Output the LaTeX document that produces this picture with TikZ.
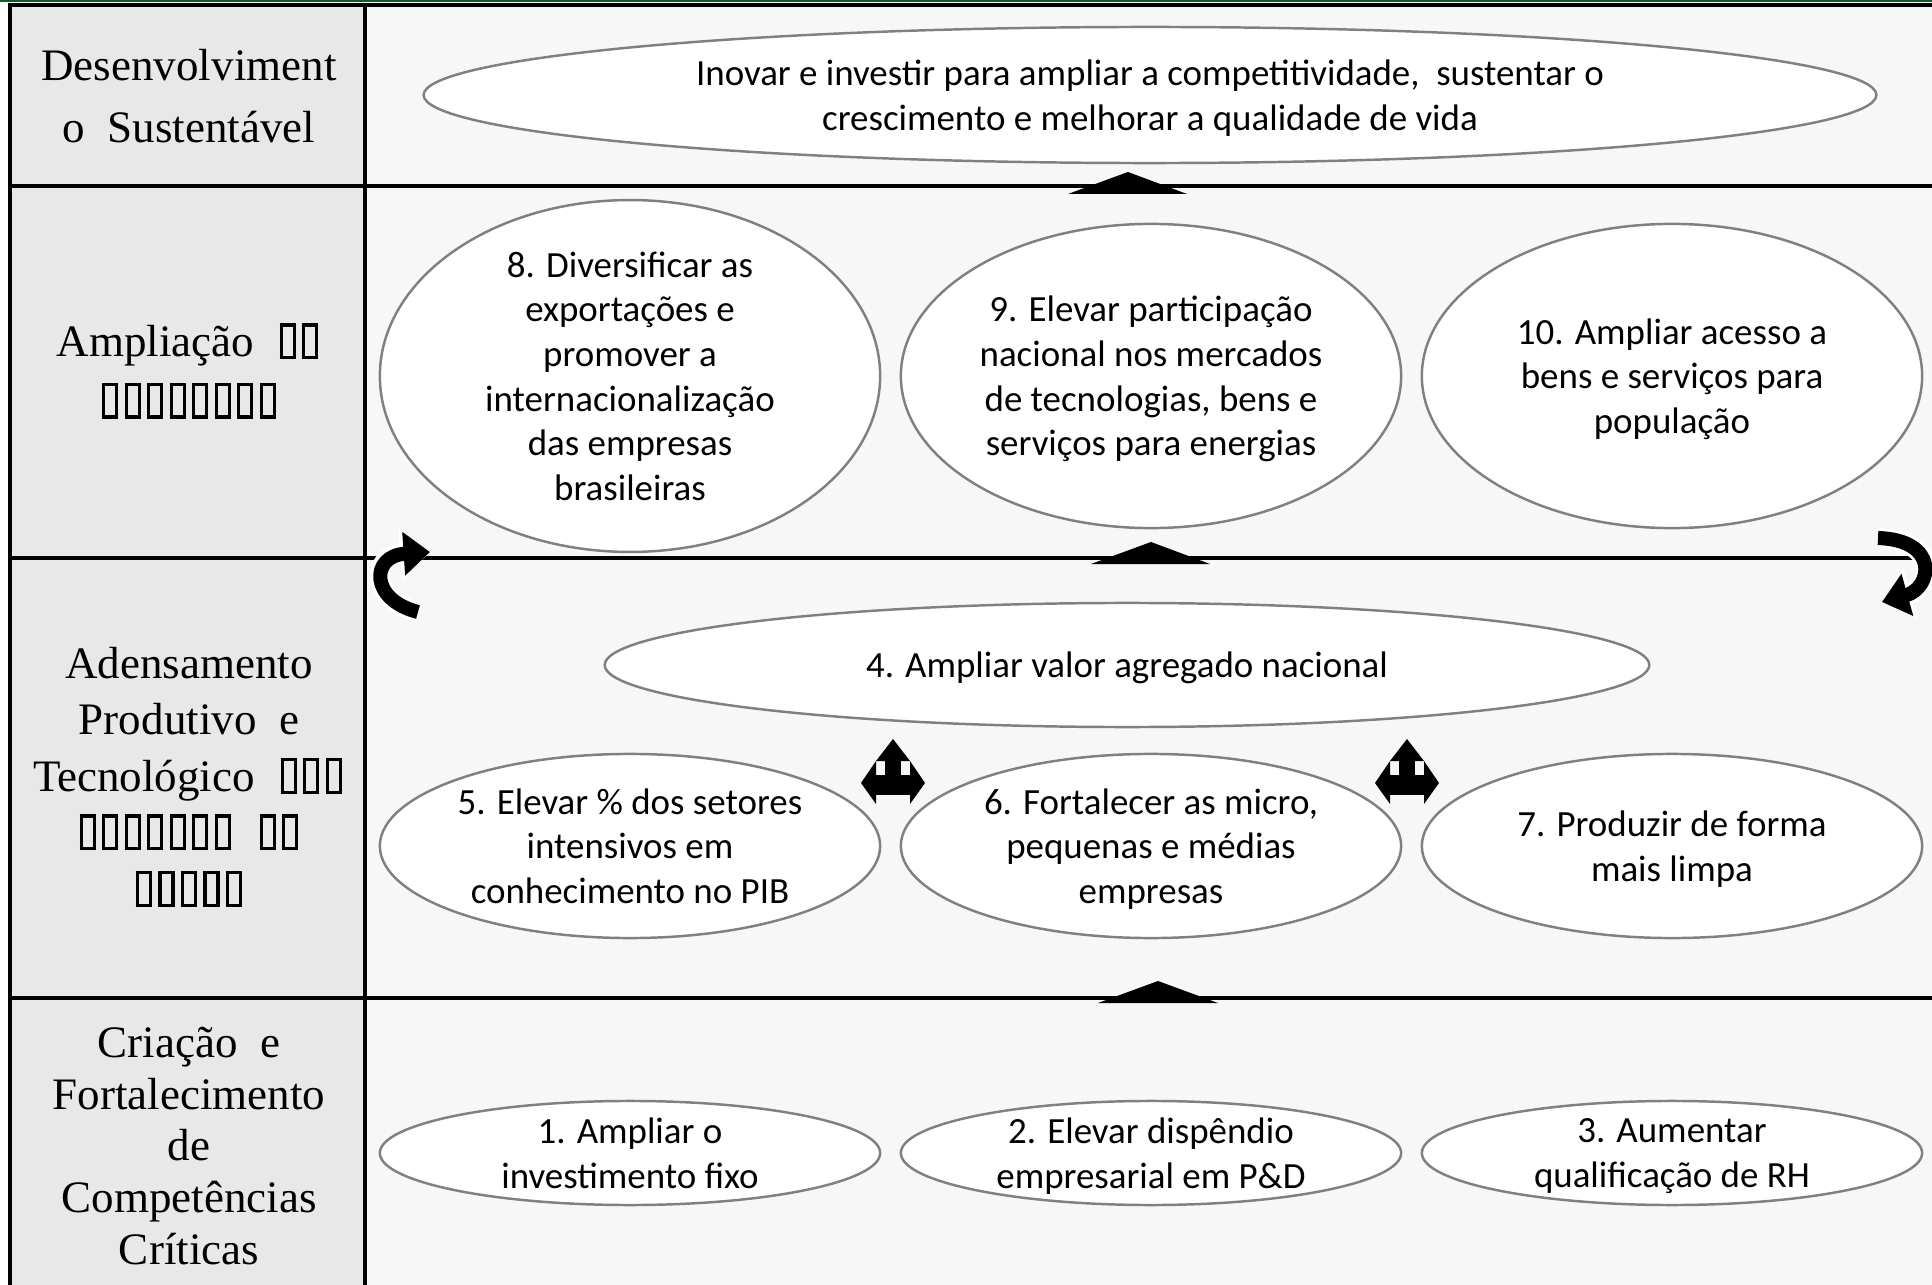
\documentclass[tikz,border=0pt]{standalone}
\usepackage{fontspec}
\setmainfont{Liberation Serif}
\newfontfamily\calfont{Carlito}
\usetikzlibrary{shapes.geometric,arrows.meta}
\definecolor{rowgray}{RGB}{232,232,232}
\definecolor{panelgray}{RGB}{247,247,247}
\definecolor{ringgray}{RGB}{128,128,128}
\definecolor{topgreen}{RGB}{10,95,45}
\newcommand\tofu{\makebox[0.5em]{\fboxsep=0pt\fboxrule=0.07em\fbox{\rule{0.22em}{0pt}\rule{0pt}{0.66em}}}}
\newcommand\tofus[1]{\foreach\k in {1,...,#1}{\tofu}}

\begin{document}
\begin{tikzpicture}[x=0.01cm, y=-0.01cm,
  goal/.style={ellipse, draw=ringgray, line width=0.7pt, fill=white, inner sep=0pt, align=center, text depth=0pt, minimum width=50mm, font=\calfont\fontsize{10.5}{12.7}\selectfont},
  goalbig/.style={goal, minimum height=30.4mm},
  goalmid/.style={goal, minimum height=18.4mm},
  goalsmall/.style={goal, minimum height=10.4mm},
  pillar/.style={align=center, font=\fontsize{12.8}{16}\selectfont},
  gridline/.style={line width=1pt},
  turn/.style={line width=4pt, -{Triangle[width=12pt,length=7.5pt]}, preaction={draw=white, line width=5.6pt, -{Triangle[width=14pt,length=8.5pt]}}},
  triarrow/.pic={
    \fill (0,-36) -- (-17,-14) -- (17,-14) -- cycle;
    \fill (-8,-14) rectangle (8,0);
    \fill (-17,0) rectangle (17,20);
    \fill (-32,8) -- (-17,-14) -- (-17,29) -- cycle;
    \fill (32,8) -- (17,-14) -- (17,29) -- cycle;}]
  \useasboundingbox (0,0) rectangle (1932,1285);
  \fill[white] (0,0) rectangle (1932,1285);
  \fill[panelgray] (365,5) rectangle (1932,1285);
  \fill[rowgray] (10,5) rectangle (365,1285);
  \fill[topgreen] (0,0) rectangle (1932,2.5);
  \draw[line width=1.4pt] (8,5) -- (1932,5);
  \draw[gridline, line width=1.2pt] (10,5) -- (10,1285);
  \draw[gridline, line width=1.2pt] (365,5) -- (365,1285);
  \draw[gridline] (10,186) -- (1932,186);
  \draw[gridline] (10,558) -- (1932,558);
  \draw[gridline] (10,998) -- (1932,998);

  \node[pillar, font=\fontsize{12.8}{17.6}\selectfont] (hdSust) at (189,96) {Desenvolviment\\o\ \ Sustentável};
  \node[pillar, font=\fontsize{12.8}{16.8}\selectfont] (hdMerc) at (189,371) {Ampliação\ \ \tofus{2}\\\tofus{8}};
  \node[pillar] (hdCad) at (189,777) {Adensamento\\Produtivo\ \ e\\Tecnológico\ \ \tofus{3}\\\tofus{7}\ \ \tofus{2}\\\tofus{5}};
  \node[pillar, font=\fontsize{12.8}{14.7}\selectfont] (hdComp) at (189,1146) {Criação\ \ e\\Fortalecimento\\de\\Competências\\Críticas};

  \node[goal, minimum width=145.2mm, minimum height=13.6mm] (goalTop) at (1150,95) {Inovar e investir para ampliar a competitividade,\ \ sustentar o\\crescimento e melhorar a qualidade de vida};

  \node[goalbig] (goal8) at (630,376) {8. Diversificar as\\exportações e\\promover a\\internacionalização\\das empresas\\brasileiras};
  \node[goalbig] (goal9) at (1151,376) {9. Elevar participação\\nacional nos mercados\\de tecnologias, bens e\\serviços para energias};
  \node[goalbig] (goal10) at (1672,376) {10. Ampliar acesso a\\bens e serviços para\\população};

  \node[goal, minimum width=104.4mm, minimum height=12.4mm] (goal4) at (1127,665) {4. Ampliar valor agregado nacional};
  \node[goalmid] (goal5) at (630,846) {5. Elevar \% dos setores\\intensivos em\\conhecimento no PIB};
  \node[goalmid] (goal6) at (1151,846) {6. Fortalecer as micro,\\pequenas e médias\\empresas};
  \node[goalmid] (goal7) at (1672,846) {7. Produzir de forma\\mais limpa};

  \node[goalsmall] (goal1) at (630,1153) {1. Ampliar o\\investimento fixo};
  \node[goalsmall] (goal2) at (1151,1153) {2. Elevar dispêndio\\empresarial em P\&D};
  \node[goalsmall] (goal3) at (1672,1153) {3. Aumentar\\qualificação de RH};

  \fill (1068,194) -- (1128,172) -- (1187,194) -- cycle;
  \fill (1091,564) -- (1151,542) -- (1210,564) -- cycle;
  \fill (1098,1003) -- (1158,981) -- (1218,1003) -- cycle;

  \pic at (893,775) {triarrow};
  \pic at (1407,775) {triarrow};

  \draw[turn] (418,612) .. controls (370,600) and (370,556) .. (430,552);
  \draw[turn] (1878,538) .. controls (1940,540) and (1932,588) .. (1882,602);
\end{tikzpicture}
\end{document}
